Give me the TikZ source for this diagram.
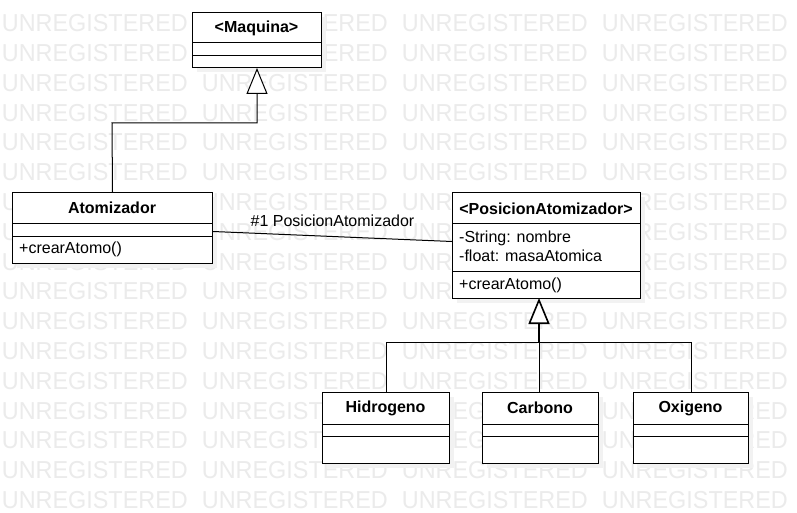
\documentclass[tikz,border=0pt]{standalone}
\usepackage{fontspec}
\setmainfont{Liberation Sans}
\newfontfamily\wmfont[FakeStretch=0.955]{Liberation Sans}
\usetikzlibrary{arrows.meta}
\newcommand{\umlclass}[5]{%
  \fill[black!5] (#2+5,#3+5) rectangle ++(#4,#5);
  \node[umlbox,minimum width=#4,minimum height=#5] (#1) at (#2,#3) {};
}
\begin{document}
\begin{tikzpicture}[x=1pt,y=-1pt,
  umlbox/.style={draw=black,fill=white,line width=1pt,rectangle,inner sep=0pt,anchor=north west},
  ttl/.style={font=\fontsize{16}{19}\selectfont\bfseries,inner sep=0pt},
  txt/.style={font=\fontsize{16}{19}\selectfont,inner sep=0pt,anchor=west},
  inh/.style={draw=black,line width=1pt,-{Triangle[length=26pt,width=21pt,fill=white]}},
  assoc/.style={draw=black,line width=1pt},
  wm/.style={font=\wmfont\fontsize{24.5}{24.5}\selectfont,text=black!8,inner sep=0pt,anchor=base west}
]
\useasboundingbox[fill=white] (0,0) rectangle (797,513);
% watermark
\foreach \k in {0,...,16}{
  \foreach \i in {0,...,3}{
    \node[wm] (wm-\i-\k) at (1.7+200*\i,31.7+29.8*\k) {UNREGISTERED};
  }
}
% classes
\umlclass{maq}{192}{12}{129}{55}
\umlclass{atom}{12}{192}{200}{71}
\umlclass{pos}{452}{192}{188}{106}
\umlclass{hid}{322}{392}{127}{71}
\umlclass{car}{482}{392}{116}{71}
\umlclass{oxi}{633}{392}{115}{71}
% compartments
\draw[assoc] (maq.west |- 0,43) -- (maq.east |- 0,43);
\draw[assoc] (maq.west |- 0,56) -- (maq.east |- 0,56);
\draw[assoc] (atom.west |- 0,223) -- (atom.east |- 0,223);
\draw[assoc] (atom.west |- 0,236) -- (atom.east |- 0,236);
\draw[assoc] (pos.west |- 0,223) -- (pos.east |- 0,223);
\draw[assoc] (pos.west |- 0,271) -- (pos.east |- 0,271);
\foreach \n in {hid,car,oxi}{
  \draw[assoc] (\n.west |- 0,424) -- (\n.east |- 0,424);
  \draw[assoc] (\n.west |- 0,436) -- (\n.east |- 0,436);
}
% texts
\node[ttl] (tmaq) at (256.5,28) {<Maquina>};
\node[ttl] (tatom) at (112,208) {Atomizador};
\node[txt] (matom) at (19,249) {+crearAtomo()};
\node[ttl] (tpos) at (546,209) {<PosicionAtomizador>};
\node[txt] (apos1) at (459,238) {-String: nombre};
\node[txt] (apos2) at (459,256) {-float: masaAtomica};
\node[txt] (mpos) at (459,285) {+crearAtomo()};
\node[ttl] (thid) at (385.5,408) {Hidrogeno};
\node[ttl] (tcar) at (540,408) {Carbono};
\node[ttl] (toxi) at (690.5,408) {Oxigeno};
% connectors
\coordinate (j1) at (112,123);
\draw[inh] (atom.north) -- (j1) -| (maq.south);
\coordinate (ptip) at (539,298);
\coordinate (bar) at (539,342);
\draw[assoc] (hid.north) -- (hid.north |- bar) -- (bar);
\draw[assoc] (oxi.north) -- (oxi.north |- bar) -- (bar);
\draw[assoc] (car.north -| bar) -- (bar);
\draw[inh,line width=1.6pt] (bar) -- (ptip);
\draw[assoc] ([yshift=-3.5pt]atom.east) -- node[pos=0.5,above=9pt,font=\fontsize{16}{19}\selectfont,inner sep=0pt] (lassoc) {\#1 PosicionAtomizador} ([yshift=4pt]pos.west);
\end{tikzpicture}
\end{document}
